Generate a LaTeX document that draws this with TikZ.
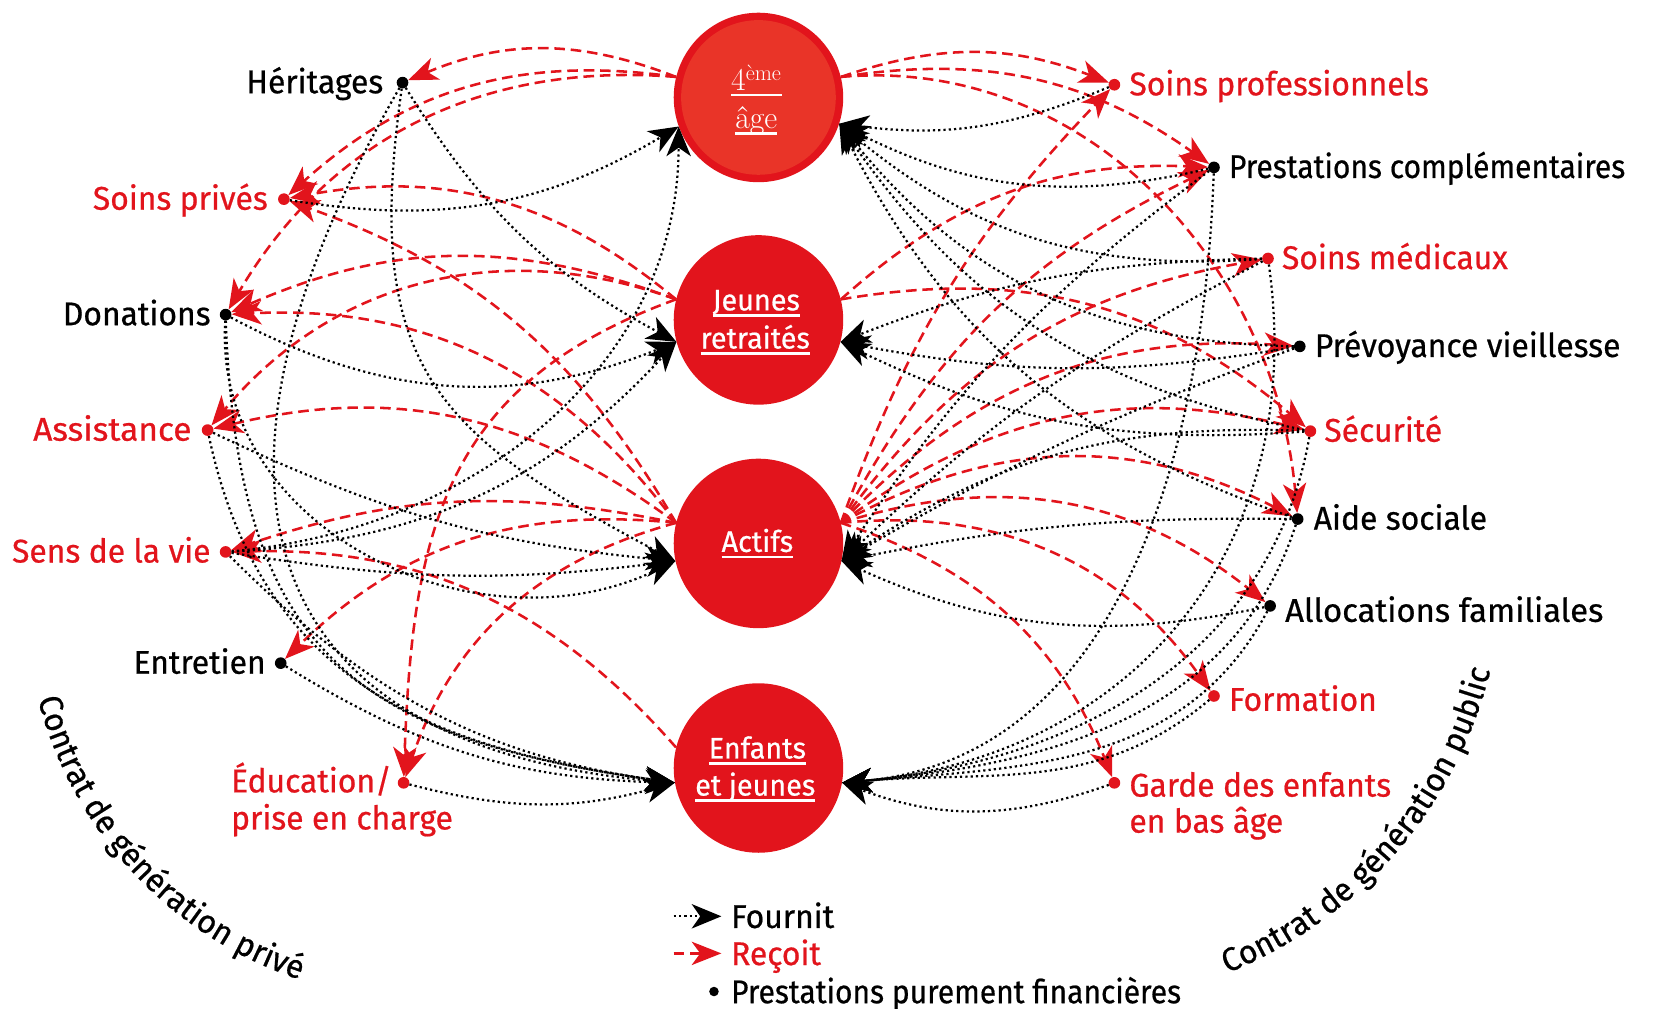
\documentclass[tikz,border=0pt]{standalone}
\usepackage{fontspec}
\usepackage{graphicx}
\usetikzlibrary{arrows.meta,decorations.text}
\newfontfamily\din{Fira Sans}[FakeStretch=0.97,FakeBold=0.6]
\definecolor{cred}{RGB}{226,20,28}
\definecolor{cinner}{RGB}{233,52,40}
\newcommand\myul[1]{\setbox0=\hbox{#1}\leavevmode\rlap{\rule[-6pt]{\wd0}{2.6pt}}\box0}
\tikzset{
  gen/.style={circle, fill=cred, inner sep=0pt, minimum size=160pt},
  gtxt/.style={text=white, font=\din\fontsize{28}{32}\selectfont, inner sep=0pt},
  lbl/.style={font=\din\fontsize{31}{36}\selectfont, inner sep=0pt},
  rlbl/.style={lbl, text=cred},
  bdot/.style={circle, fill=black, inner sep=0pt, minimum size=11pt},
  rdot/.style={circle, fill=cred, inner sep=0pt, minimum size=11pt},
  fo/.style={line width=2.1pt, dash pattern=on 2.1pt off 2.9pt, -{Stealth[length=28pt,width=23pt,inset=8pt]}},
  re/.style={cred, line width=2.4pt, dash pattern=on 10pt off 5.5pt, -{Stealth[length=28pt,width=22pt,inset=8pt]}},
  arctext/.style={decorate, decoration={text along path, text align=center, text={|\din\fontsize{31}{36}\selectfont|#1}}}
}
\begin{document}
\begin{tikzpicture}[x=1pt,y=1pt]
\useasboundingbox (0,0) rectangle (1568,-952.5);
\fill[white] (0,0) rectangle (1568,-952.5);
% generations
\node[gen] (age4) at (716,-92) {};
\node[circle, fill=cinner, inner sep=0pt, minimum size=146pt] (age4in) at (716,-92) {};
\node[gen] (jr) at (716,-302) {};
\node[gen] (act) at (716,-513) {};
\node[gen] (enf) at (716,-725) {};
\node[gtxt, anchor=base] (t4a) at (714,-85) {\rmfamily\fontsize{30}{32}\selectfont\myul{4\textsuperscript{ème}}};
\node[gtxt, anchor=base] (t4b) at (714,-121) {\rmfamily\fontsize{30}{32}\selectfont\myul{âge}};
\node[gtxt, anchor=base] (jrA) at (714,-293) {\myul{Jeunes}};
\node[gtxt, anchor=base] (jrB) at (713,-329) {\myul{retraités}};
\node[gtxt, anchor=base] (actA) at (715,-521) {\myul{Actifs}};
\node[gtxt, anchor=base] (enfA) at (715,-716) {\myul{Enfants}};
\node[gtxt, anchor=base] (enfB) at (713,-751) {\myul{et jeunes}};
% left items
\node[bdot] (her) at (380,-78) {};
\node[lbl, anchor=base east] (herL) at (362,-88) {Héritages};
\node[rdot] (sop) at (268,-188) {};
\node[rlbl, anchor=base east] (sopL) at (253,-198) {Soins privés};
\node[bdot] (don) at (213,-297) {};
\node[lbl, anchor=base east] (donL) at (199,-307) {Donations};
\node[rdot] (ass) at (196,-406) {};
\node[rlbl, anchor=base east] (assL) at (181,-416) {\scalebox{1.05}[1]{Assistance}};
\node[rdot] (sens) at (213,-521) {};
\node[rlbl, anchor=base east] (sensL) at (199,-531) {Sens de la vie};
\node[bdot] (ent) at (265,-626) {};
\node[lbl, anchor=base east] (entL) at (251,-636) {Entretien};
\node[rdot] (edu) at (381,-739) {};
\node[rlbl, anchor=base west] (eduL1) at (218,-748) {Éducation/};
\node[rlbl, anchor=base west] (eduL2) at (218,-783) {prise en charge};
% right items
\node[rdot] (spro) at (1052,-80) {};
\node[rlbl, anchor=base west] (sproL) at (1066,-90) {Soins professionnels};
\node[bdot] (pc) at (1146,-158) {};
\node[lbl, anchor=base west] (pcL) at (1160,-168) {\scalebox{0.94}[1]{Prestations complémentaires}};
\node[rdot] (smed) at (1197,-244) {};
\node[rlbl, anchor=base west] (smedL) at (1210,-254) {Soins médicaux};
\node[bdot] (pv) at (1227,-327) {};
\node[lbl, anchor=base west] (pvL) at (1241,-337) {Prévoyance vieillesse};
\node[rdot] (sec) at (1237,-407) {};
\node[rlbl, anchor=base west] (secL) at (1250,-417) {Sécurité};
\node[bdot] (aide) at (1225,-490) {};
\node[lbl, anchor=base west] (aideL) at (1240,-500) {Aide sociale};
\node[bdot] (alloc) at (1199,-572) {};
\node[lbl, anchor=base west] (allocL) at (1213,-587) {\scalebox{1.03}[1]{Allocations familiales}};
\node[rdot] (form) at (1146,-657) {};
\node[rlbl, anchor=base west] (formL) at (1160,-671) {Formation};
\node[rdot] (garde) at (1052,-739) {};
\node[rlbl, anchor=base west] (gardeL1) at (1066,-752) {Garde des enfants};
\node[rlbl, anchor=base west] (gardeL2) at (1066,-786) {en bas âge};
% left red
\draw[re] (age4.166) to[bend right=22] (her);
\draw[re] (age4.166) to[bend right=25] (sop);
\draw[re] (age4.166) to[bend right=32] (don);
\draw[re] (jr.166) to[bend right=25] (sop);
\draw[re] (act.166) to[bend right=20] (sop);
\draw[re] (jr.166) to[bend right=22] (don);
\draw[re] (act.166) to[bend right=28] (don);
\draw[re] (jr.166) to[bend right=35] (ass);
\draw[re] (act.166) to[bend right=25] (ass);
\draw[re] (act.166) to[bend right=15] (sens);
\draw[re] (enf.166) to[bend right=25] (sens);
\draw[re] (act.166) to[bend right=25] (ent);
\draw[re] (jr.166) to[out=200,in=88,looseness=1.15] (edu);
\draw[re] (act.166) to[bend right=28] (edu);
% left black
\draw[fo] (sop) to[bend right=20] (age4.200);
\draw[fo] (sens) to[out=5,in=-90] (age4.200);
\draw[fo] (her) to[bend right=15] (jr.195);
\draw[fo] (don) to[bend right=25] (jr.195);
\draw[fo] (sens) to[bend right=22] (jr.195);
\draw[fo] (her) to[out=-98,in=152,looseness=1.3] (act.192);
\draw[fo] (don) .. controls (200,-500) and (450,-620) .. (act.192);
\draw[fo] (ass) to[bend right=10] (act.192);
\draw[fo] (sens) to[bend right=8] (act.192);
\draw[fo] (her) to[out=240,in=175,looseness=1.5] (enf.190);
\draw[fo] (don) to[out=-88,in=172,looseness=1.3] (enf.190);
\draw[fo] (ass) to[out=-78,in=172,looseness=1.1] (enf.190);
\draw[fo] (sens) to[out=-45,in=172] (enf.190);
\draw[fo] (ent) to[bend right=15] (enf.190);
\draw[fo] (edu) to[bend right=15] (enf.190);
% right red
\draw[re] (age4.14) to[bend left=20] (spro);
\draw[re] (age4.14) to[bend left=22] (pc);
\draw[re] (age4.14) to[out=5,in=95] (aide);
\draw[re] (jr.14) to[bend left=22] (pc);
\draw[re] (jr.14) to[bend left=25] (sec);
\draw[re] (act.14) to[bend left=12] (spro);
\draw[re] (act.14) to[bend left=18] (pc);
\draw[re] (act.14) to[bend left=22] (smed);
\draw[re] (act.14) to[bend left=25] (pv);
\draw[re] (act.14) to[bend left=25] (sec);
\draw[re] (act.14) to[bend left=28] (aide);
\draw[re] (act.14) to[bend left=28] (alloc);
\draw[re] (act.14) to[bend left=30] (form);
\draw[re] (act.14) to[bend left=25] (garde);
% right black
\draw[fo] (spro) to[bend left=15] (age4.-18);
\draw[fo] (pc) to[bend left=20] (age4.-18);
\draw[fo] (smed) to[bend left=22] (age4.-18);
\draw[fo] (pv) to[bend left=25] (age4.-18);
\draw[fo] (sec) to[bend left=22] (age4.-18);
\draw[fo] (aide) to[bend left=22] (age4.-18);
\draw[fo] (smed) to[bend right=10] (jr.-15);
\draw[fo] (pv) to[bend left=10] (jr.-15);
\draw[fo] (sec) to[bend left=15] (jr.-15);
\draw[fo] (pc) to[bend right=10] (act.-12);
\draw[fo] (smed) to[bend right=8] (act.-12);
\draw[fo] (pv) to[bend right=5] (act.-12);
\draw[fo] (sec) to[bend right=18] (act.-12);
\draw[fo] (aide) to[bend right=6] (act.-12);
\draw[fo] (alloc) to[bend left=18] (act.-12);
\draw[fo] (pc) to[out=-92,in=5] (enf.-10);
\draw[fo] (smed) to[out=-82,in=5,looseness=1.1] (enf.-10);
\draw[fo] (sec) to[out=-100,in=5] (enf.-10);
\draw[fo] (aide) to[out=-108,in=5] (enf.-10);
\draw[fo] (alloc) to[out=-118,in=5] (enf.-10);
\draw[fo] (form) to[out=-140,in=5] (enf.-10);
\draw[fo] (garde) to[bend left=20] (enf.-10);
% legend
\coordinate (f1) at (636,-865); \coordinate (f2) at (681,-865);
\draw[fo] (f1) -- (f2);
\node[lbl, anchor=base west] (fL) at (690,-876) {Fournit};
\coordinate (r1) at (636,-900); \coordinate (r2) at (681,-900);
\draw[re] (r1) -- (r2);
\node[rlbl, anchor=base west] (rL) at (690,-911) {Reçoit};
\node[bdot, minimum size=9pt] (legdot) at (674,-936) {};
\node[lbl, anchor=base west] (pL) at (690,-947) {\scalebox{0.94}[1]{Prestations purement financières}};
% arc texts
\coordinate (cL) at (402,-566);
\coordinate (cR) at (1004,-533.5);
\path[arctext={Contrat de génération privé}] ([shift={(190:378)}]cL) arc[start angle=190, end angle=256, radius=378];
\path[arctext={Contrat de génération public}] ([shift={(-70:415)}]cR) arc[start angle=-70, end angle=-12, radius=415];
\end{tikzpicture}
\end{document}
